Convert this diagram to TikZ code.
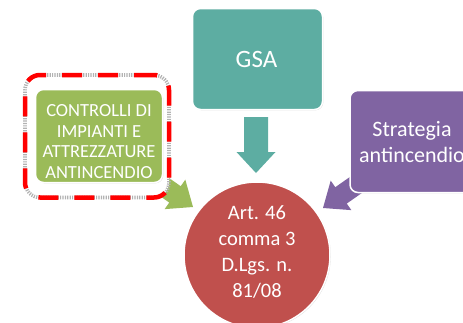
\documentclass[tikz,border=0pt]{standalone}
\usepackage{fontspec}
\setmainfont{Carlito}
\usetikzlibrary{shadows}
\definecolor{gsa}{RGB}{93,173,162}
\definecolor{grn}{RGB}{155,187,89}
\definecolor{prp}{RGB}{128,100,162}
\definecolor{crc}{RGB}{192,80,77}
\definecolor{dashred}{RGB}{255,0,0}
\tikzset{
  box/.style={draw=white, line width=1.5pt, rounded corners=8pt, inner sep=0pt,
    drop shadow={opacity=0.3, shadow xshift=0.8pt, shadow yshift=-0.8pt}},
  lbl/.style={text=white, align=center, inner sep=0pt},
  arrowshape/.style={fill=#1, draw=none},
  frameback/.style={draw=gray!60, line width=3.6pt, dash pattern=on 1.2pt off 1.2pt,
    fill=white, rounded corners=15pt, inner sep=0pt},
  framered/.style={draw=dashred, line width=4.5pt, dash pattern=on 20pt off 16pt,
    rounded corners=15pt, inner sep=0pt},
}
\begin{document}
\begin{tikzpicture}[x=1pt,y=-1pt]
\useasboundingbox (0,0) rectangle (463,322);
\clip (0,0) rectangle (463,322);

% block arrows
\begin{scope}[shift={(256,173)}, rotate=-90]
  \fill[arrowshape=gsa] (0,0) -- (-21,19.5) -- (-21,12) -- (-56,12) -- (-56,-12) -- (-21,-12) -- (-21,-19.5) -- cycle;
\end{scope}
\begin{scope}[shift={(193,207)}, rotate=-35]
  \fill[arrowshape=grn] (0,0) -- (-22,18) -- (-22,10) -- (-48,10) -- (-48,-10) -- (-22,-10) -- (-22,-18) -- cycle;
\end{scope}
\begin{scope}[shift={(323,208)}, rotate=-145]
  \fill[arrowshape=prp] (0,0) -- (-22,18) -- (-22,10) -- (-48,10) -- (-48,-10) -- (-22,-10) -- (-22,-18) -- cycle;
\end{scope}

% GSA box
\node[box, fill=gsa, minimum width=130pt, minimum height=101pt] (gsa) at (257.5,59) {};
\node[lbl, font=\fontsize{25}{30}\selectfont] (gsatext) at (256.5,59.2) {GSA};

% dashed frame and green box
\node[frameback, minimum width=144pt, minimum height=122.5pt] (frameb) at (97,136.25) {};
\node[framered, minimum width=144pt, minimum height=122.5pt] (framer) at (97,136.25) {};
\node[box, fill=grn, minimum width=127pt, minimum height=93pt] (ctrl) at (99,136) {};
\node[lbl, font=\fontsize{18.5}{20.4}\selectfont] (ctrltext) at (99,141.5)
  {CONTROLLI DI\\IMPIANTI E\\ATTREZZATURE\\ANTINCENDIO};

% purple box
\node[box, fill=prp, minimum width=124pt, minimum height=102pt] (strat) at (412,141.5) {};
\node[lbl, font=\fontsize{22}{25.7}\selectfont] (strattext) at (412,142) {Strategia\\antincendio};

% circle
\node[circle, fill=crc, draw=white, line width=1.5pt, minimum size=146pt, inner sep=0pt,
  drop shadow={opacity=0.3, shadow xshift=0.8pt, shadow yshift=-0.8pt}] (art) at (257,255) {};
\node[lbl, font=\fontsize{20.5}{25.8}\selectfont] (arttext) at (257,252)
  {Art. 46\\comma 3\\D.Lgs. n.\\81/08};
\end{tikzpicture}
\end{document}
